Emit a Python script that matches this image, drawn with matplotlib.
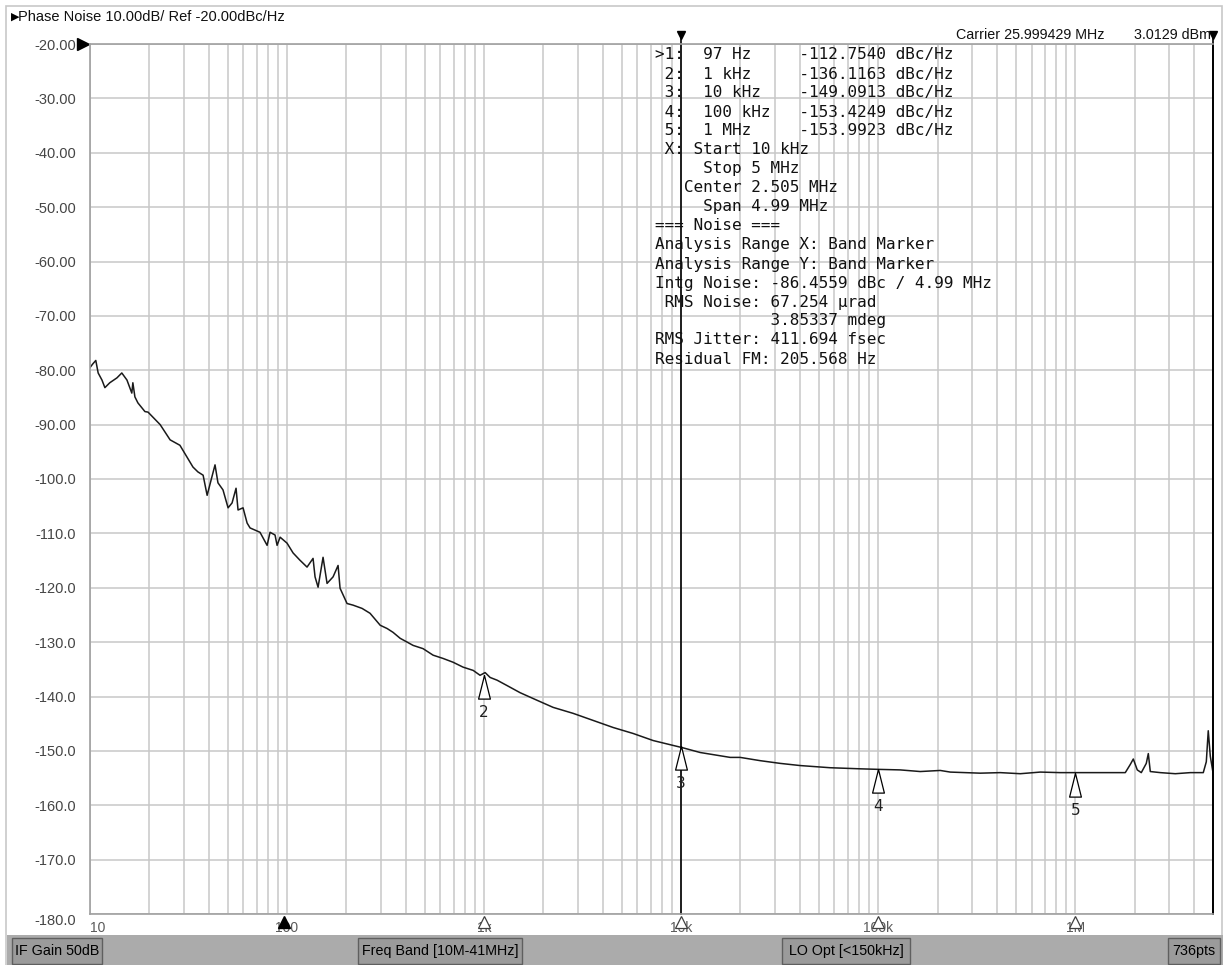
import matplotlib
matplotlib.use('Agg')
import matplotlib.pyplot as plt
from matplotlib.patches import Rectangle
from matplotlib.ticker import LogLocator, NullFormatter

# phase noise trace (offset Hz, dBc/Hz)
freq_hz = [10, 10.35, 10.7, 11.0, 11.5, 11.9, 12.6, 13.7, 14.5, 15.4,
           16.3, 16.5, 16.9, 17.5, 19.0, 19.7, 22.7, 25.5, 28.6, 33.3,
           35.3, 37.5, 39.3, 43.1, 44.6, 47.3, 50.2, 52.6, 55.1, 56.4,
           59.8, 62.7, 64.9, 72.9, 79.2, 82.0, 86.9, 89.0, 92.2, 100,
           107.3, 116, 126.3, 135.5, 138.7, 143.7, 152.3, 159.6, 171.2, 181.5,
           185.8, 201.6, 216.3, 240.3, 263.8, 297, 322, 345, 375, 407,
           436, 490, 551, 619, 696, 782, 880, 954, 1012, 1073,
           1164, 1309, 1523, 1858, 2240, 2830, 3575, 4516, 5705, 7210,
           9110, 10120, 12490, 15780, 17730, 19930, 25180, 31800, 40180, 57060,
           81030, 100000, 129300, 163400, 206400, 232100, 329500, 416300, 525900, 664400,
           839200, 1.0e6, 1.34e6, 1.794e6, 1.902e6, 1.97e6, 2.064e6, 2.163e6, 2.293e6, 2.348e6,
           2.403e6, 2.701e6, 3.218e6, 3.836e6, 4.463e6, 4.624e6, 4.73e6, 4.845e6, 5.0e6]
level_dbc = [-79.5, -78.8, -78.2, -80.5, -81.8, -83.2, -82.3, -81.4, -80.5, -81.8,
             -84.2, -82.3, -84.9, -86.0, -87.6, -87.7, -90.0, -92.8, -93.8, -97.8,
             -98.7, -99.3, -103.0, -97.4, -100.7, -102.0, -105.3, -104.4, -101.7, -105.7,
             -105.3, -108.1, -109.0, -109.8, -112.2, -109.8, -110.3, -112.2, -110.7, -111.8,
             -113.6, -114.9, -116.2, -114.6, -118.0, -119.9, -114.4, -119.2, -118.0, -115.9,
             -120.1, -122.9, -123.2, -123.8, -124.7, -126.9, -127.5, -128.2, -129.3, -130.0,
             -130.6, -131.2, -132.4, -133.0, -133.7, -134.6, -135.2, -136.1, -135.6, -136.5,
             -137.0, -138.0, -139.3, -140.7, -142.0, -143.1, -144.4, -145.7, -146.8, -148.1,
             -149.0, -149.4, -150.3, -150.9, -151.2, -151.2, -151.8, -152.3, -152.7, -153.1,
             -153.3, -153.4, -153.5, -153.8, -153.6, -153.9, -154.1, -154.0, -154.2, -153.9,
             -154.0, -154.0, -154.0, -154.0, -152.5, -151.5, -153.5, -154.0, -152.3, -150.5,
             -153.8, -154.0, -154.2, -154.0, -154.0, -152.0, -146.3, -151.0, -154.0]

# markers
marker_names = ['1', '2', '3', '4', '5']
marker_freq = [97, 1e3, 10e3, 100e3, 1e6]
marker_level = [-112.7540, -136.1163, -149.0913, -153.4249, -153.9923]

band_start = 10e3
band_stop = 5e6

y_ticks = [-20, -30, -40, -50, -60, -70, -80, -90, -100, -110, -120, -130, -140, -150, -160, -170, -180]
y_labels = ['-20.00', '-30.00', '-40.00', '-50.00', '-60.00', '-70.00', '-80.00', '-90.00',
            '-100.0', '-110.0', '-120.0', '-130.0', '-140.0', '-150.0', '-160.0', '-170.0', '-180.0']
x_ticks = [10, 100, 1e3, 1e4, 1e5, 1e6]
x_labels = ['10', '100', '1k', '10k', '100k', '1M']

title = 'Phase Noise 10.00dB/ Ref -20.00dBc/Hz'
carrier = 'Carrier 25.999429 MHz'
carrier_power = '3.0129 dBm'

readout = [
    '>1:  97 Hz     -112.7540 dBc/Hz',
    ' 2:  1 kHz     -136.1163 dBc/Hz',
    ' 3:  10 kHz    -149.0913 dBc/Hz',
    ' 4:  100 kHz   -153.4249 dBc/Hz',
    ' 5:  1 MHz     -153.9923 dBc/Hz',
    ' X: Start 10 kHz',
    '     Stop 5 MHz',
    '   Center 2.505 MHz',
    '     Span 4.99 MHz',
    '=== Noise ===',
    'Analysis Range X: Band Marker',
    'Analysis Range Y: Band Marker',
    'Intg Noise: -86.4559 dBc / 4.99 MHz',
    ' RMS Noise: 67.254 µrad',
    '            3.85337 mdeg',
    'RMS Jitter: 411.694 fsec',
    'Residual FM: 205.568 Hz',
]

status_labels = ['IF Gain 50dB', 'Freq Band [10M-41MHz]', 'LO Opt [<150kHz]', '736pts']

# ---- layout (pixels of the 1223x965 screenshot)
W, H = 1223, 965
def fx(px):
    return px / W
def fy(py):
    return 1 - py / H

ui = ['Liberation Sans', 'DejaVu Sans']
mono = ['DejaVu Sans Mono', 'DejaVu Sans']

fig = plt.figure(figsize=(W / 100, H / 100), dpi=100)
fig.patch.set_facecolor('white')
ax = fig.add_axes([fx(90), fy(914), (1213 - 90) / W, (914 - 44) / H])

ax.set_xscale('log')
ax.set_xlim(10, band_stop)
ax.set_ylim(-180, -20)

ax.xaxis.set_minor_locator(LogLocator(base=10, subs=range(2, 10), numticks=20))
ax.xaxis.set_minor_formatter(NullFormatter())
ax.xaxis.grid(True, which='both', color='#c8c8c8', lw=1.1)
ax.yaxis.grid(True, which='major', color='#c8c8c8', lw=1.1)
ax.set_axisbelow(True)
ax.tick_params(which='both', length=0)

ax.set_yticks(y_ticks, y_labels)
ax.set_xticks(x_ticks, x_labels)
ax.tick_params(axis='y', pad=10, labelsize=10.5, labelcolor='#454545')
ax.tick_params(axis='x', pad=5, labelsize=10, labelcolor='#5a5a5a')
for lab in ax.get_yticklabels() + ax.get_xticklabels():
    lab.set_family(ui)
for lab in ax.get_yticklabels():
    if lab.get_text() == '-180.0':
        lab.set_va('top')
ax.get_xticklabels()[0].set_ha('left')

for side in ['left', 'bottom', 'top']:
    ax.spines[side].set_color('#a0a0a0')
    ax.spines[side].set_linewidth(1.2)
ax.spines['right'].set_color('black')
ax.spines['right'].set_linewidth(1.3)

# trace
ax.plot(freq_hz, level_dbc, color='#1a1a1a', lw=1.1)

# band marker lines with their flags above the grid
xt = ax.get_xaxis_transform()
for f in [band_start, band_stop]:
    ax.plot([f, f], [0, 1.009], transform=xt, color='black', lw=1.2, clip_on=False)
ax.plot([band_start, band_stop], [1.0105, 1.0105], transform=xt, ls='none',
        marker='v', ms=6, color='black', clip_on=False)

# reference level flag
ax.plot([-0.0065], [1.0], transform=ax.transAxes, marker='>', ms=8, color='black', clip_on=False)

# markers on the trace (apex touching the trace), numbers below
tri_down = [(0, 0), (-0.25, -1), (0.25, -1), (0, 0)]
for name, f, lvl in zip(marker_names[1:], marker_freq[1:], marker_level[1:]):
    ax.plot([f], [lvl], marker=tri_down, ms=34, mfc='white', mec='black', mew=0.9, ls='none')
    ax.annotate(name, (f, lvl), xytext=(0, -27), textcoords='offset points',
                ha='center', va='center', fontsize=11, color='#202020')

# markers on the bottom scale
ax.plot(marker_freq[:1], [-0.0095], transform=xt, marker='^', ms=9, color='black',
        ls='none', clip_on=False)
ax.plot(marker_freq[1:], [-0.0095] * 4, transform=xt, marker='^', ms=9, mfc='white',
        mec='#404040', mew=0.9, ls='none', clip_on=False)

# readout text block
for i, line in enumerate(readout):
    fig.text(fx(655), fy(55 + 19 * i), line, family=mono, fontsize=11.5,
             va='center', ha='left', color='#111111')

# header texts
fig.text(fx(11), fy(17), '▶', family=['DejaVu Sans'], fontsize=8, va='center', ha='left')
fig.text(fx(18), fy(17), title, family=ui, fontsize=10.5, va='center', ha='left', color='#111111')
fig.text(fx(956), fy(35), carrier, family=ui, fontsize=10.3, va='center', ha='left', color='#111111')
fig.text(fx(1134), fy(35), carrier_power, family=ui, fontsize=10.3, va='center', ha='left', color='#111111')

# outer frame
fig.add_artist(Rectangle((fx(6), -0.01), fx(1222) - fx(6), fy(6) + 0.01, transform=fig.transFigure,
                         fill=False, edgecolor='#c8c8c8', lw=1.2))

# status bar
fig.add_artist(Rectangle((fx(7), 0), 1 - fx(7), fy(935), transform=fig.transFigure,
                         facecolor='#ababab', edgecolor='none'))
box_x = [(12, 102), (358, 522), (782, 910), (1168, 1220)]
for label, (x0, x1) in zip(status_labels, box_x):
    fig.add_artist(Rectangle((fx(x0), fy(964)), fx(x1) - fx(x0), fy(938) - fy(964),
                             transform=fig.transFigure, facecolor='#9b9b9b',
                             edgecolor='#5f5f5f', lw=1.0))
    fig.text(fx((x0 + x1) / 2), fy(951), label, family=ui, fontsize=10.3,
             ha='center', va='center', color='black')

fig.savefig('out.png', dpi=100)
